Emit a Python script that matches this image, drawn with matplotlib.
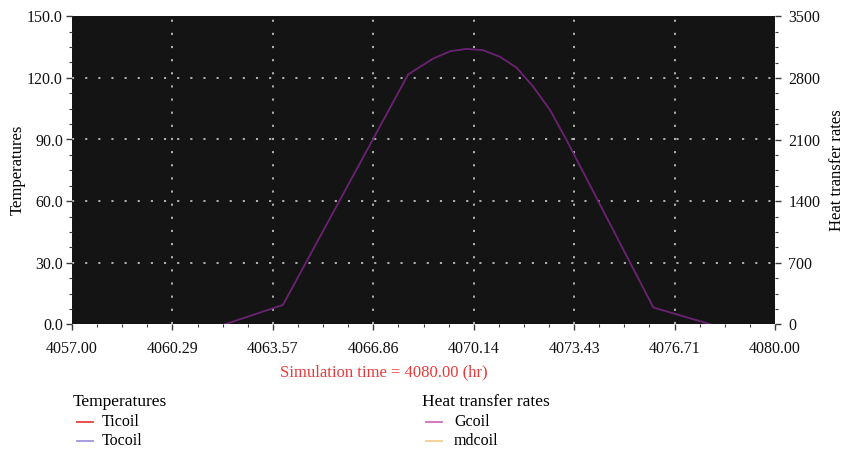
import numpy as np
import matplotlib
matplotlib.use('Agg')
import matplotlib.pyplot as plt
import matplotlib.ticker as tkr
from matplotlib.lines import Line2D

plt.rcParams['font.family'] = ['Liberation Serif', 'DejaVu Serif']

# simulation time (hr) and Gcoil heat transfer rate
time_hr = [4062.0, 4063.9, 4068.0, 4068.82, 4069.37, 4069.91, 4070.45, 4071.0,
           4071.55, 4072.09, 4072.64, 4073.18, 4076.02, 4077.89]
gcoil = [0, 220, 2840, 3020, 3103, 3130, 3115, 3040,
         2915, 2700, 2435, 2094, 191, 0]

temp_names = ['Ticoil', 'Tocoil']
temp_colors = ['#e8403a', '#9f95e0']
rate_names = ['Gcoil', 'mdcoil']
rate_colors = ['#d36ac0', '#f5cf8f']

x_ticks = np.linspace(4057, 4080, 8)
temp_ticks = [0, 30, 60, 90, 120, 150]
rate_ticks = [0, 700, 1400, 2100, 2800, 3500]

W, H = 847, 451
fig = plt.figure(figsize=(W / 100, H / 100), dpi=100)
ax1 = fig.add_axes([72 / W, 1 - 324.3 / H, 703 / W, 308 / H])
ax1.set_facecolor('#141414')
ax2 = ax1.twinx()

ax1.set_xlim(4057, 4080)
ax1.set_ylim(0, 150)
ax2.set_ylim(0, 3500)

ax1.set_xticks(x_ticks)
ax1.xaxis.set_major_formatter(tkr.FormatStrFormatter('%.2f'))
ax1.xaxis.set_minor_locator(tkr.AutoMinorLocator(4))
ax1.set_yticks(temp_ticks)
ax1.yaxis.set_major_formatter(tkr.FormatStrFormatter('%.1f'))
ax1.yaxis.set_minor_locator(tkr.AutoMinorLocator(4))
ax2.set_yticks(rate_ticks)
ax2.yaxis.set_minor_locator(tkr.AutoMinorLocator(4))

tick_col = '#3a3a3a'
for a in (ax1, ax2):
    for s in a.spines.values():
        s.set_visible(False)
    a.tick_params(which='major', length=4.5, width=1, color=tick_col,
                  labelsize=11.5, labelcolor='#111111')
    a.tick_params(which='minor', length=2.5, width=0.8, color=tick_col)
ax1.tick_params(axis='y', pad=2)
ax1.tick_params(axis='x', pad=7.5)
ax2.tick_params(axis='y', pad=5)

# dotted white grid
dots = (0, (1.4, 7.2))
for xv in x_ticks[1:-1]:
    ax1.axvline(xv, color='#dcdcdc', lw=1.1, ls=dots, zorder=1)
for yv in temp_ticks[1:-1]:
    ax1.axhline(yv, color='#dcdcdc', lw=1.1, ls=dots, zorder=1)

# temperature series have no points in this window
for name, c in zip(temp_names, temp_colors):
    ax1.plot([], [], color=c, label=name)
ax2.plot(time_hr, gcoil, color='#6b2272', lw=1.3, zorder=3)

fig.text(18 / W, 1 - 170 / H, 'Temperatures', rotation=90, ha='center',
         va='center', fontsize=12)
fig.text(837 / W, 1 - 170 / H, 'Heat transfer rates', rotation=90,
         ha='center', va='center', fontsize=12)
fig.text(384 / W, 1 - 372 / H, 'Simulation time = 4080.00 (hr)',
         color='#e83a3a', ha='center', va='center', fontsize=12)

# legends drawn by hand below the chart
def legend_block(x0, title, names, colors, text_dx):
    fig.text(x0 / W, 1 - 402 / H, title, ha='left', va='center', fontsize=12.5)
    for i, (n, c) in enumerate(zip(names, colors)):
        yy = 1 - (421.5 + 19.3 * i) / H
        fig.add_artist(Line2D([(x0 + 4) / W, (x0 + 20) / W], [yy, yy],
                              color=c, lw=1.3, transform=fig.transFigure))
        fig.text((x0 + text_dx) / W, yy, n, ha='left', va='center',
                 fontsize=11.5)

legend_block(73, 'Temperatures', temp_names, temp_colors, 29)
legend_block(422, 'Heat transfer rates', rate_names, rate_colors, 32)

fig.savefig('out.png', dpi=100)
